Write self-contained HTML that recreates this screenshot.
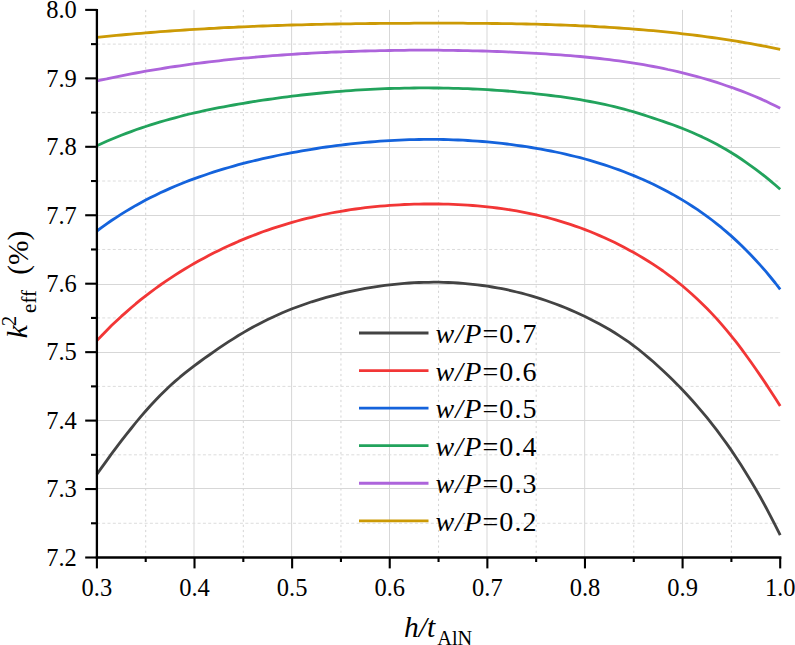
<!DOCTYPE html><html><head><meta charset="utf-8"><style>html,body{margin:0;padding:0;background:#fff}svg{display:block}text{font-family:"Liberation Serif",serif;fill:#000}</style></head><body>
<svg width="795" height="645" viewBox="0 0 795 645">
<rect width="795" height="645" fill="#fff"/>
<line x1="194.00" y1="9.90" x2="194.00" y2="557.50" stroke="#d7d7d7" stroke-width="1"/><line x1="291.60" y1="9.90" x2="291.60" y2="557.50" stroke="#d7d7d7" stroke-width="1"/><line x1="389.50" y1="9.90" x2="389.50" y2="557.50" stroke="#d7d7d7" stroke-width="1"/><line x1="487.00" y1="9.90" x2="487.00" y2="557.50" stroke="#d7d7d7" stroke-width="1"/><line x1="584.70" y1="9.90" x2="584.70" y2="557.50" stroke="#d7d7d7" stroke-width="1"/><line x1="682.50" y1="9.90" x2="682.50" y2="557.50" stroke="#d7d7d7" stroke-width="1"/><line x1="145.71" y1="9.90" x2="145.71" y2="557.50" stroke="#d4d4d4" stroke-width="1" stroke-dasharray="2.2 3"/><line x1="243.32" y1="9.90" x2="243.32" y2="557.50" stroke="#d4d4d4" stroke-width="1" stroke-dasharray="2.2 3"/><line x1="340.94" y1="9.90" x2="340.94" y2="557.50" stroke="#d4d4d4" stroke-width="1" stroke-dasharray="2.2 3"/><line x1="438.55" y1="9.90" x2="438.55" y2="557.50" stroke="#d4d4d4" stroke-width="1" stroke-dasharray="2.2 3"/><line x1="536.16" y1="9.90" x2="536.16" y2="557.50" stroke="#d4d4d4" stroke-width="1" stroke-dasharray="2.2 3"/><line x1="633.78" y1="9.90" x2="633.78" y2="557.50" stroke="#d4d4d4" stroke-width="1" stroke-dasharray="2.2 3"/><line x1="731.39" y1="9.90" x2="731.39" y2="557.50" stroke="#d4d4d4" stroke-width="1" stroke-dasharray="2.2 3"/><line x1="96.90" y1="488.50" x2="780.20" y2="488.50" stroke="#d7d7d7" stroke-width="1"/><line x1="96.90" y1="420.50" x2="780.20" y2="420.50" stroke="#d7d7d7" stroke-width="1"/><line x1="96.90" y1="352.50" x2="780.20" y2="352.50" stroke="#d7d7d7" stroke-width="1"/><line x1="96.90" y1="284.50" x2="780.20" y2="284.50" stroke="#d7d7d7" stroke-width="1"/><line x1="96.90" y1="215.50" x2="780.20" y2="215.50" stroke="#d7d7d7" stroke-width="1"/><line x1="96.90" y1="147.50" x2="780.20" y2="147.50" stroke="#d7d7d7" stroke-width="1"/><line x1="96.90" y1="78.50" x2="780.20" y2="78.50" stroke="#d7d7d7" stroke-width="1"/><line x1="96.90" y1="523.28" x2="780.20" y2="523.28" stroke="#dcdcdc" stroke-width="1" stroke-dasharray="3 2.3"/><line x1="96.90" y1="454.83" x2="780.20" y2="454.83" stroke="#dcdcdc" stroke-width="1" stroke-dasharray="3 2.3"/><line x1="96.90" y1="386.38" x2="780.20" y2="386.38" stroke="#dcdcdc" stroke-width="1" stroke-dasharray="3 2.3"/><line x1="96.90" y1="317.93" x2="780.20" y2="317.93" stroke="#dcdcdc" stroke-width="1" stroke-dasharray="3 2.3"/><line x1="96.90" y1="249.47" x2="780.20" y2="249.47" stroke="#dcdcdc" stroke-width="1" stroke-dasharray="3 2.3"/><line x1="96.90" y1="181.03" x2="780.20" y2="181.03" stroke="#dcdcdc" stroke-width="1" stroke-dasharray="3 2.3"/><line x1="96.90" y1="112.58" x2="780.20" y2="112.58" stroke="#dcdcdc" stroke-width="1" stroke-dasharray="3 2.3"/><line x1="96.90" y1="44.12" x2="780.20" y2="44.12" stroke="#dcdcdc" stroke-width="1" stroke-dasharray="3 2.3"/>
<polyline fill="none" stroke="#434343" stroke-width="2.8" stroke-linejoin="round" stroke-linecap="butt" points="96.9,474.3 101.8,467.4 106.7,460.6 111.5,453.9 116.4,447.4 121.3,440.9 126.2,434.6 131.1,428.5 135.9,422.5 140.8,416.6 145.7,411.0 150.6,405.5 155.5,400.3 160.3,395.2 165.2,390.4 170.1,385.7 175.0,381.4 179.9,377.2 184.8,373.2 189.6,369.4 194.5,365.6 199.4,362.0 204.3,358.4 209.2,355.0 214.0,351.6 218.9,348.2 223.8,344.9 228.7,341.7 233.6,338.6 238.4,335.5 243.3,332.6 248.2,329.8 253.1,327.0 258.0,324.4 262.8,321.9 267.7,319.5 272.6,317.2 277.5,315.0 282.4,312.8 287.2,310.8 292.1,308.8 297.0,307.0 301.9,305.2 306.8,303.5 311.7,301.8 316.5,300.3 321.4,298.8 326.3,297.4 331.2,296.1 336.1,294.8 340.9,293.6 345.8,292.4 350.7,291.3 355.6,290.3 360.5,289.3 365.3,288.4 370.2,287.6 375.1,286.8 380.0,286.1 384.9,285.4 389.7,284.8 394.6,284.3 399.5,283.8 404.4,283.4 409.3,283.0 414.1,282.7 419.0,282.5 423.9,282.4 428.8,282.3 433.7,282.2 438.6,282.2 443.4,282.3 448.3,282.5 453.2,282.7 458.1,283.0 463.0,283.4 467.8,283.8 472.7,284.3 477.6,284.8 482.5,285.5 487.4,286.2 492.2,287.0 497.1,287.8 502.0,288.7 506.9,289.7 511.8,290.8 516.6,292.0 521.5,293.2 526.4,294.5 531.3,295.9 536.2,297.3 541.0,298.9 545.9,300.5 550.8,302.2 555.7,304.0 560.6,305.9 565.4,307.8 570.3,309.9 575.2,312.0 580.1,314.2 585.0,316.5 589.9,318.9 594.7,321.4 599.6,324.0 604.5,326.7 609.4,329.5 614.3,332.5 619.1,335.6 624.0,338.8 628.9,342.2 633.8,345.8 638.7,349.5 643.5,353.5 648.4,357.6 653.3,361.8 658.2,366.2 663.1,370.7 667.9,375.3 672.8,380.1 677.7,384.9 682.6,390.0 687.5,395.2 692.3,400.5 697.2,406.1 702.1,411.8 707.0,417.7 711.9,423.8 716.8,430.1 721.6,436.7 726.5,443.4 731.4,450.4 736.3,457.7 741.2,465.2 746.0,472.9 750.9,480.9 755.8,489.2 760.7,497.8 765.6,506.7 770.4,515.8 775.3,525.3 780.2,535.1"/>
<polyline fill="none" stroke="#f23636" stroke-width="2.8" stroke-linejoin="round" stroke-linecap="butt" points="96.9,340.6 101.8,335.5 106.7,330.5 111.5,325.6 116.4,321.0 121.3,316.4 126.2,312.1 131.1,307.8 135.9,303.7 140.8,299.7 145.7,295.9 150.6,292.2 155.5,288.5 160.3,285.0 165.2,281.6 170.1,278.3 175.0,275.1 179.9,272.0 184.8,269.0 189.6,266.1 194.5,263.3 199.4,260.5 204.3,257.9 209.2,255.3 214.0,252.8 218.9,250.4 223.8,248.0 228.7,245.8 233.6,243.6 238.4,241.4 243.3,239.4 248.2,237.4 253.1,235.5 258.0,233.6 262.8,231.8 267.7,230.1 272.6,228.4 277.5,226.8 282.4,225.3 287.2,223.8 292.1,222.4 297.0,221.0 301.9,219.7 306.8,218.4 311.7,217.3 316.5,216.1 321.4,215.0 326.3,214.0 331.2,213.0 336.1,212.1 340.9,211.3 345.8,210.5 350.7,209.7 355.6,209.0 360.5,208.3 365.3,207.7 370.2,207.2 375.1,206.6 380.0,206.2 384.9,205.8 389.7,205.4 394.6,205.1 399.5,204.8 404.4,204.5 409.3,204.3 414.1,204.2 419.0,204.1 423.9,204.0 428.8,204.0 433.7,204.0 438.6,204.0 443.4,204.1 448.3,204.2 453.2,204.4 458.1,204.6 463.0,204.8 467.8,205.1 472.7,205.5 477.6,205.9 482.5,206.3 487.4,206.8 492.2,207.4 497.1,208.0 502.0,208.6 506.9,209.3 511.8,210.1 516.6,210.9 521.5,211.8 526.4,212.8 531.3,213.8 536.2,214.9 541.0,216.0 545.9,217.2 550.8,218.5 555.7,219.9 560.6,221.3 565.4,222.8 570.3,224.4 575.2,226.1 580.1,227.8 585.0,229.6 589.9,231.5 594.7,233.5 599.6,235.6 604.5,237.7 609.4,240.0 614.3,242.3 619.1,244.7 624.0,247.3 628.9,249.9 633.8,252.6 638.7,255.4 643.5,258.3 648.4,261.3 653.3,264.4 658.2,267.7 663.1,271.0 667.9,274.6 672.8,278.2 677.7,282.1 682.6,286.0 687.5,290.2 692.3,294.5 697.2,299.0 702.1,303.7 707.0,308.5 711.9,313.6 716.8,318.9 721.6,324.4 726.5,330.1 731.4,336.1 736.3,342.2 741.2,348.6 746.0,355.2 750.9,362.0 755.8,369.0 760.7,376.1 765.6,383.4 770.4,390.8 775.3,398.3 780.2,405.9"/>
<polyline fill="none" stroke="#1463dc" stroke-width="2.8" stroke-linejoin="round" stroke-linecap="butt" points="96.9,231.0 101.8,227.4 106.7,223.9 111.5,220.5 116.4,217.3 121.3,214.1 126.2,211.1 131.1,208.2 135.9,205.4 140.8,202.7 145.7,200.1 150.6,197.6 155.5,195.2 160.3,192.8 165.2,190.6 170.1,188.4 175.0,186.3 179.9,184.3 184.8,182.3 189.6,180.4 194.5,178.6 199.4,176.9 204.3,175.2 209.2,173.5 214.0,171.9 218.9,170.4 223.8,168.9 228.7,167.5 233.6,166.1 238.4,164.7 243.3,163.4 248.2,162.2 253.1,161.0 258.0,159.8 262.8,158.7 267.7,157.6 272.6,156.6 277.5,155.5 282.4,154.5 287.2,153.6 292.1,152.7 297.0,151.8 301.9,150.9 306.8,150.1 311.7,149.3 316.5,148.5 321.4,147.7 326.3,147.0 331.2,146.3 336.1,145.7 340.9,145.1 345.8,144.5 350.7,143.9 355.6,143.4 360.5,142.9 365.3,142.4 370.2,142.0 375.1,141.6 380.0,141.2 384.9,140.9 389.7,140.6 394.6,140.3 399.5,140.1 404.4,139.9 409.3,139.7 414.1,139.6 419.0,139.5 423.9,139.4 428.8,139.4 433.7,139.4 438.6,139.4 443.4,139.5 448.3,139.6 453.2,139.8 458.1,140.0 463.0,140.2 467.8,140.5 472.7,140.8 477.6,141.1 482.5,141.5 487.4,141.9 492.2,142.4 497.1,142.9 502.0,143.4 506.9,144.0 511.8,144.6 516.6,145.3 521.5,146.0 526.4,146.7 531.3,147.5 536.2,148.3 541.0,149.2 545.9,150.1 550.8,151.0 555.7,152.0 560.6,153.0 565.4,154.1 570.3,155.3 575.2,156.5 580.1,157.7 585.0,159.0 589.9,160.4 594.7,161.8 599.6,163.3 604.5,164.9 609.4,166.5 614.3,168.2 619.1,169.9 624.0,171.7 628.9,173.7 633.8,175.6 638.7,177.7 643.5,179.8 648.4,182.0 653.3,184.3 658.2,186.7 663.1,189.2 667.9,191.8 672.8,194.4 677.7,197.2 682.6,200.1 687.5,203.1 692.3,206.2 697.2,209.4 702.1,212.8 707.0,216.3 711.9,220.0 716.8,223.8 721.6,227.7 726.5,231.9 731.4,236.1 736.3,240.6 741.2,245.2 746.0,250.0 750.9,255.0 755.8,260.2 760.7,265.6 765.6,271.2 770.4,277.0 775.3,283.0 780.2,289.3"/>
<polyline fill="none" stroke="#22a35c" stroke-width="2.8" stroke-linejoin="round" stroke-linecap="butt" points="96.9,145.7 101.8,143.5 106.7,141.3 111.5,139.2 116.4,137.2 121.3,135.3 126.2,133.4 131.1,131.6 135.9,129.8 140.8,128.1 145.7,126.5 150.6,124.9 155.5,123.3 160.3,121.9 165.2,120.5 170.1,119.1 175.0,117.8 179.9,116.5 184.8,115.2 189.6,114.0 194.5,112.9 199.4,111.8 204.3,110.7 209.2,109.7 214.0,108.7 218.9,107.7 223.8,106.8 228.7,105.9 233.6,105.0 238.4,104.1 243.3,103.3 248.2,102.5 253.1,101.7 258.0,100.9 262.8,100.2 267.7,99.5 272.6,98.8 277.5,98.1 282.4,97.4 287.2,96.8 292.1,96.2 297.0,95.6 301.9,95.0 306.8,94.5 311.7,94.0 316.5,93.5 321.4,93.0 326.3,92.5 331.2,92.1 336.1,91.7 340.9,91.3 345.8,90.9 350.7,90.6 355.6,90.2 360.5,89.9 365.3,89.7 370.2,89.4 375.1,89.1 380.0,88.9 384.9,88.7 389.7,88.5 394.6,88.4 399.5,88.3 404.4,88.1 409.3,88.1 414.1,88.0 419.0,87.9 423.9,87.9 428.8,87.9 433.7,88.0 438.6,88.0 443.4,88.1 448.3,88.2 453.2,88.3 458.1,88.4 463.0,88.6 467.8,88.7 472.7,89.0 477.6,89.2 482.5,89.4 487.4,89.7 492.2,90.0 497.1,90.3 502.0,90.7 506.9,91.0 511.8,91.4 516.6,91.9 521.5,92.3 526.4,92.8 531.3,93.2 536.2,93.8 541.0,94.3 545.9,94.9 550.8,95.5 555.7,96.1 560.6,96.7 565.4,97.4 570.3,98.1 575.2,98.9 580.1,99.7 585.0,100.6 589.9,101.5 594.7,102.4 599.6,103.4 604.5,104.4 609.4,105.5 614.3,106.7 619.1,107.9 624.0,109.2 628.9,110.5 633.8,111.9 638.7,113.4 643.5,114.9 648.4,116.5 653.3,118.1 658.2,119.8 663.1,121.4 667.9,123.1 672.8,124.8 677.7,126.6 682.6,128.5 687.5,130.5 692.3,132.5 697.2,134.7 702.1,136.9 707.0,139.3 711.9,141.7 716.8,144.3 721.6,147.0 726.5,149.8 731.4,152.7 736.3,155.8 741.2,159.0 746.0,162.3 750.9,165.8 755.8,169.4 760.7,173.1 765.6,176.9 770.4,180.9 775.3,185.0 780.2,189.2"/>
<polyline fill="none" stroke="#ad64db" stroke-width="2.8" stroke-linejoin="round" stroke-linecap="butt" points="96.9,81.0 101.8,79.9 106.7,78.9 111.5,77.8 116.4,76.8 121.3,75.8 126.2,74.9 131.1,73.9 135.9,73.0 140.8,72.1 145.7,71.2 150.6,70.4 155.5,69.6 160.3,68.8 165.2,68.0 170.1,67.2 175.0,66.5 179.9,65.8 184.8,65.1 189.6,64.4 194.5,63.7 199.4,63.1 204.3,62.5 209.2,61.9 214.0,61.3 218.9,60.8 223.8,60.2 228.7,59.7 233.6,59.2 238.4,58.7 243.3,58.2 248.2,57.8 253.1,57.3 258.0,56.9 262.8,56.5 267.7,56.1 272.6,55.7 277.5,55.3 282.4,55.0 287.2,54.7 292.1,54.3 297.0,54.0 301.9,53.7 306.8,53.5 311.7,53.2 316.5,52.9 321.4,52.7 326.3,52.5 331.2,52.2 336.1,52.0 340.9,51.8 345.8,51.7 350.7,51.5 355.6,51.3 360.5,51.2 365.3,51.0 370.2,50.9 375.1,50.8 380.0,50.7 384.9,50.6 389.7,50.5 394.6,50.4 399.5,50.3 404.4,50.3 409.3,50.2 414.1,50.2 419.0,50.2 423.9,50.2 428.8,50.2 433.7,50.2 438.6,50.2 443.4,50.3 448.3,50.3 453.2,50.4 458.1,50.5 463.0,50.6 467.8,50.7 472.7,50.8 477.6,50.9 482.5,51.0 487.4,51.2 492.2,51.3 497.1,51.5 502.0,51.7 506.9,51.9 511.8,52.1 516.6,52.3 521.5,52.6 526.4,52.8 531.3,53.1 536.2,53.4 541.0,53.6 545.9,53.9 550.8,54.3 555.7,54.6 560.6,54.9 565.4,55.3 570.3,55.7 575.2,56.1 580.1,56.5 585.0,57.0 589.9,57.5 594.7,58.0 599.6,58.5 604.5,59.1 609.4,59.7 614.3,60.3 619.1,60.9 624.0,61.6 628.9,62.3 633.8,63.1 638.7,63.9 643.5,64.7 648.4,65.6 653.3,66.5 658.2,67.4 663.1,68.4 667.9,69.5 672.8,70.5 677.7,71.7 682.6,72.8 687.5,74.1 692.3,75.3 697.2,76.6 702.1,78.0 707.0,79.4 711.9,80.9 716.8,82.4 721.6,84.0 726.5,85.7 731.4,87.3 736.3,89.1 741.2,90.9 746.0,92.8 750.9,94.7 755.8,96.7 760.7,98.9 765.6,101.1 770.4,103.4 775.3,105.8 780.2,108.3"/>
<polyline fill="none" stroke="#cc9a05" stroke-width="2.8" stroke-linejoin="round" stroke-linecap="butt" points="96.9,37.4 101.8,36.9 106.7,36.4 111.5,35.9 116.4,35.4 121.3,35.0 126.2,34.5 131.1,34.1 135.9,33.7 140.8,33.3 145.7,32.9 150.6,32.5 155.5,32.1 160.3,31.7 165.2,31.3 170.1,31.0 175.0,30.7 179.9,30.3 184.8,30.0 189.6,29.7 194.5,29.4 199.4,29.1 204.3,28.8 209.2,28.5 214.0,28.3 218.9,28.0 223.8,27.7 228.7,27.5 233.6,27.3 238.4,27.0 243.3,26.8 248.2,26.6 253.1,26.4 258.0,26.2 262.8,26.0 267.7,25.8 272.6,25.7 277.5,25.5 282.4,25.3 287.2,25.2 292.1,25.0 297.0,24.9 301.9,24.8 306.8,24.6 311.7,24.5 316.5,24.4 321.4,24.3 326.3,24.2 331.2,24.1 336.1,24.0 340.9,23.9 345.8,23.9 350.7,23.8 355.6,23.7 360.5,23.7 365.3,23.6 370.2,23.5 375.1,23.5 380.0,23.4 384.9,23.4 389.7,23.4 394.6,23.3 399.5,23.3 404.4,23.3 409.3,23.3 414.1,23.2 419.0,23.2 423.9,23.2 428.8,23.2 433.7,23.2 438.6,23.2 443.4,23.2 448.3,23.2 453.2,23.2 458.1,23.2 463.0,23.2 467.8,23.3 472.7,23.3 477.6,23.3 482.5,23.4 487.4,23.4 492.2,23.5 497.1,23.5 502.0,23.6 506.9,23.6 511.8,23.7 516.6,23.8 521.5,23.9 526.4,24.0 531.3,24.1 536.2,24.2 541.0,24.4 545.9,24.5 550.8,24.6 555.7,24.8 560.6,25.0 565.4,25.2 570.3,25.3 575.2,25.5 580.1,25.8 585.0,26.0 589.9,26.2 594.7,26.5 599.6,26.8 604.5,27.0 609.4,27.3 614.3,27.7 619.1,28.0 624.0,28.3 628.9,28.7 633.8,29.1 638.7,29.5 643.5,29.9 648.4,30.3 653.3,30.7 658.2,31.2 663.1,31.7 667.9,32.2 672.8,32.7 677.7,33.2 682.6,33.8 687.5,34.3 692.3,34.9 697.2,35.5 702.1,36.2 707.0,36.8 711.9,37.5 716.8,38.2 721.6,38.9 726.5,39.6 731.4,40.4 736.3,41.2 741.2,42.0 746.0,42.8 750.9,43.7 755.8,44.6 760.7,45.5 765.6,46.4 770.4,47.4 775.3,48.4 780.2,49.4"/>
<line x1="96.90" y1="8.9" x2="96.90" y2="558.65" stroke="#000" stroke-width="2.3"/><line x1="95.75" y1="557.50" x2="781.40" y2="557.50" stroke="#000" stroke-width="2.3"/><line x1="85.2" y1="557.50" x2="96.90" y2="557.50" stroke="#000" stroke-width="2.1"/><line x1="85.2" y1="489.05" x2="96.90" y2="489.05" stroke="#000" stroke-width="2.1"/><line x1="85.2" y1="420.60" x2="96.90" y2="420.60" stroke="#000" stroke-width="2.1"/><line x1="85.2" y1="352.15" x2="96.90" y2="352.15" stroke="#000" stroke-width="2.1"/><line x1="85.2" y1="283.70" x2="96.90" y2="283.70" stroke="#000" stroke-width="2.1"/><line x1="85.2" y1="215.25" x2="96.90" y2="215.25" stroke="#000" stroke-width="2.1"/><line x1="85.2" y1="146.80" x2="96.90" y2="146.80" stroke="#000" stroke-width="2.1"/><line x1="85.2" y1="78.35" x2="96.90" y2="78.35" stroke="#000" stroke-width="2.1"/><line x1="85.2" y1="9.90" x2="96.90" y2="9.90" stroke="#000" stroke-width="2.1"/><line x1="91" y1="523.28" x2="96.90" y2="523.28" stroke="#000" stroke-width="2.1"/><line x1="91" y1="454.83" x2="96.90" y2="454.83" stroke="#000" stroke-width="2.1"/><line x1="91" y1="386.38" x2="96.90" y2="386.38" stroke="#000" stroke-width="2.1"/><line x1="91" y1="317.93" x2="96.90" y2="317.93" stroke="#000" stroke-width="2.1"/><line x1="91" y1="249.47" x2="96.90" y2="249.47" stroke="#000" stroke-width="2.1"/><line x1="91" y1="181.03" x2="96.90" y2="181.03" stroke="#000" stroke-width="2.1"/><line x1="91" y1="112.58" x2="96.90" y2="112.58" stroke="#000" stroke-width="2.1"/><line x1="91" y1="44.12" x2="96.90" y2="44.12" stroke="#000" stroke-width="2.1"/><line x1="96.90" y1="557.50" x2="96.90" y2="568.4" stroke="#000" stroke-width="2.1"/><line x1="194.51" y1="557.50" x2="194.51" y2="568.4" stroke="#000" stroke-width="2.1"/><line x1="292.13" y1="557.50" x2="292.13" y2="568.4" stroke="#000" stroke-width="2.1"/><line x1="389.74" y1="557.50" x2="389.74" y2="568.4" stroke="#000" stroke-width="2.1"/><line x1="487.36" y1="557.50" x2="487.36" y2="568.4" stroke="#000" stroke-width="2.1"/><line x1="584.97" y1="557.50" x2="584.97" y2="568.4" stroke="#000" stroke-width="2.1"/><line x1="682.59" y1="557.50" x2="682.59" y2="568.4" stroke="#000" stroke-width="2.1"/><line x1="780.20" y1="557.50" x2="780.20" y2="568.4" stroke="#000" stroke-width="2.1"/><line x1="145.71" y1="557.50" x2="145.71" y2="562" stroke="#000" stroke-width="2.1"/><line x1="243.32" y1="557.50" x2="243.32" y2="562" stroke="#000" stroke-width="2.1"/><line x1="340.94" y1="557.50" x2="340.94" y2="562" stroke="#000" stroke-width="2.1"/><line x1="438.55" y1="557.50" x2="438.55" y2="562" stroke="#000" stroke-width="2.1"/><line x1="536.16" y1="557.50" x2="536.16" y2="562" stroke="#000" stroke-width="2.1"/><line x1="633.78" y1="557.50" x2="633.78" y2="562" stroke="#000" stroke-width="2.1"/><line x1="731.39" y1="557.50" x2="731.39" y2="562" stroke="#000" stroke-width="2.1"/>
<text x="76.8" y="565.80" font-size="24.5" text-anchor="end">7.2</text><text x="76.8" y="497.35" font-size="24.5" text-anchor="end">7.3</text><text x="76.8" y="428.90" font-size="24.5" text-anchor="end">7.4</text><text x="76.8" y="360.45" font-size="24.5" text-anchor="end">7.5</text><text x="76.8" y="292.00" font-size="24.5" text-anchor="end">7.6</text><text x="76.8" y="223.55" font-size="24.5" text-anchor="end">7.7</text><text x="76.8" y="155.10" font-size="24.5" text-anchor="end">7.8</text><text x="76.8" y="86.65" font-size="24.5" text-anchor="end">7.9</text><text x="76.8" y="18.20" font-size="24.5" text-anchor="end">8.0</text><text x="96.90" y="595.8" font-size="24.5" text-anchor="middle">0.3</text><text x="194.51" y="595.8" font-size="24.5" text-anchor="middle">0.4</text><text x="292.13" y="595.8" font-size="24.5" text-anchor="middle">0.5</text><text x="389.74" y="595.8" font-size="24.5" text-anchor="middle">0.6</text><text x="487.36" y="595.8" font-size="24.5" text-anchor="middle">0.7</text><text x="584.97" y="595.8" font-size="24.5" text-anchor="middle">0.8</text><text x="682.59" y="595.8" font-size="24.5" text-anchor="middle">0.9</text><text x="780.20" y="595.8" font-size="24.5" text-anchor="middle">1.0</text>
<line x1="359" y1="333.00" x2="428.5" y2="333.00" stroke="#434343" stroke-width="2.8"/>
<text x="435.5" y="343.20" font-size="28" textLength="101" lengthAdjust="spacing"><tspan font-style="italic">w/P</tspan>=0.7</text>
<line x1="359" y1="370.56" x2="428.5" y2="370.56" stroke="#f23636" stroke-width="2.8"/>
<text x="435.5" y="380.76" font-size="28" textLength="101" lengthAdjust="spacing"><tspan font-style="italic">w/P</tspan>=0.6</text>
<line x1="359" y1="408.12" x2="428.5" y2="408.12" stroke="#1463dc" stroke-width="2.8"/>
<text x="435.5" y="418.32" font-size="28" textLength="101" lengthAdjust="spacing"><tspan font-style="italic">w/P</tspan>=0.5</text>
<line x1="359" y1="445.68" x2="428.5" y2="445.68" stroke="#22a35c" stroke-width="2.8"/>
<text x="435.5" y="455.88" font-size="28" textLength="101" lengthAdjust="spacing"><tspan font-style="italic">w/P</tspan>=0.4</text>
<line x1="359" y1="483.24" x2="428.5" y2="483.24" stroke="#ad64db" stroke-width="2.8"/>
<text x="435.5" y="493.44" font-size="28" textLength="101" lengthAdjust="spacing"><tspan font-style="italic">w/P</tspan>=0.3</text>
<line x1="359" y1="520.80" x2="428.5" y2="520.80" stroke="#cc9a05" stroke-width="2.8"/>
<text x="435.5" y="531.00" font-size="28" textLength="101" lengthAdjust="spacing"><tspan font-style="italic">w/P</tspan>=0.2</text>
<g transform="rotate(-90)">
<text x="-338.2" y="27.0" font-size="29.5" font-style="italic">k</text>
<text x="-326.2" y="16.1" font-size="21">2</text>
<text x="-312.9" y="35.9" font-size="21">eff</text>
<text x="-274.8" y="27.7" font-size="29.5">(%)</text>
</g>
<text x="404" y="636.7" font-size="29.5" font-style="italic">h/t</text>
<text x="437.3" y="644.6" font-size="20.3">AlN</text>
</svg></body></html>
